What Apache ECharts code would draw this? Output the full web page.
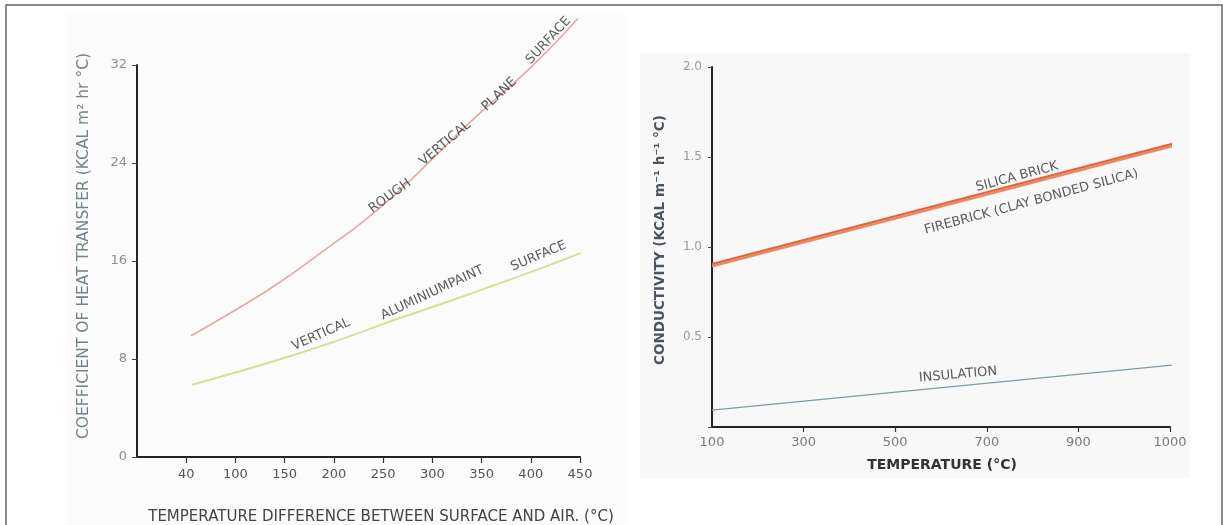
<!DOCTYPE html>
<html>
<head>
<meta charset="utf-8">
<script src="https://cdn.jsdelivr.net/npm/echarts@6/dist/echarts.min.js"></script>
<style>
html,body{margin:0;padding:0;background:#fff;}
#c{width:1223px;height:525px;}
</style>
</head>
<body>
<div id="c"></div>
<script>
// ---------- data ----------
// Left chart: heat transfer coefficient vs temperature difference
const leftTickValues = [50, 100, 150, 200, 250, 300, 350, 400, 450];
const leftTickLabels = ['40', '100', '150', '200', '250', '300', '350', '400', '450'];
const leftYTicks = [0, 8, 16, 24, 32];
const roughX = [55, 100, 142, 194, 231, 270, 302, 342, 400, 448];
const roughY = [9.9, 12.0, 14.1, 17.1, 19.3, 22.0, 24.5, 27.6, 31.8, 35.8];
const aluX = [56, 100, 142, 200, 262, 320, 362, 410, 462];
const aluY = [5.9, 6.9, 7.9, 9.4, 11.2, 12.8, 14.0, 15.4, 17.0];

// Right chart: conductivity vs temperature
const rightTickValues = [100, 300, 500, 700, 900, 1100];
const rightTickLabels = ['100', '300', '500', '700', '900', '1000'];
const rightYTicks = [0.5, 1.0, 1.5, 2.0];
const silicaX = [100, 1128];
const silicaY = [0.905, 1.588];
const fireX = [100, 1128];
const fireY = [0.893, 1.576];
const insulX = [100, 1104];
const insulY = [0.094, 0.344];

const zip = (xs, ys) => xs.map((x, i) => [x, ys[i]]);
const FONT = '"DejaVu Sans", "Liberation Sans", Arial, sans-serif';

function labelSeries(xIdx, yIdx, items, color, size) {
  return {
    type: 'scatter', xAxisIndex: xIdx, yAxisIndex: yIdx,
    symbolSize: 1, silent: true, clip: false, z: 5,
    itemStyle: { color: 'transparent' },
    data: items.map(it => ({
      value: [it[1], it[2]],
      label: { show: true, position: 'inside', formatter: it[0], rotate: it[3],
               color: color, fontSize: size, fontFamily: FONT }
    }))
  };
}

const chart = echarts.init(document.getElementById('c'), null, { renderer: 'canvas' });

const axisLineStyle = { color: '#222', width: 2 };

const option = {
  backgroundColor: '#ffffff',
  animation: false,
  graphic: [
    { type: 'rect', z: -10, shape: { x: 67, y: 14, width: 558, height: 520 }, style: { fill: '#fcfbfb' } },
    { type: 'rect', z: -10, shape: { x: 640, y: 53, width: 550, height: 425 }, style: { fill: '#f8f8f8' } },
    { type: 'rect', z: 100, shape: { x: 6, y: 5, width: 1216, height: 530 }, style: { fill: 'none', stroke: '#666', lineWidth: 1.5 } },
    { type: 'text', x: 84, y: 246, rotation: Math.PI / 2, z: 10,
      style: { text: 'COEFFICIENT OF HEAT TRANSFER (KCAL m² hr °C)', fill: '#72838a', font: '15.5px ' + FONT, align: 'center', verticalAlign: 'middle' } },
    { type: 'text', x: 381, y: 517, z: 10,
      style: { text: 'TEMPERATURE DIFFERENCE BETWEEN SURFACE AND AIR. (°C)', fill: '#444', font: '15px ' + FONT, align: 'center', verticalAlign: 'middle' } },
    { type: 'text', x: 660, y: 240, rotation: Math.PI / 2, z: 10,
      style: { text: 'CONDUCTIVITY (KCAL m⁻¹ h⁻¹ °C)', fill: '#4a5560', font: 'bold 13.5px ' + FONT, align: 'center', verticalAlign: 'middle' } },
    { type: 'text', x: 942, y: 465, z: 10,
      style: { text: 'TEMPERATURE (°C)', fill: '#333', font: 'bold 14px ' + FONT, align: 'center', verticalAlign: 'middle' } }
  ],
  grid: [
    { left: 137, top: 65, width: 443, height: 392 },
    { left: 712, top: 67, width: 458, height: 360 }
  ],
  xAxis: [
    {
      gridIndex: 0, type: 'value', min: 0, max: 450,
      axisLine: { lineStyle: axisLineStyle },
      axisTick: { show: true, inside: false, length: 6, customValues: leftTickValues, lineStyle: { color: '#333', width: 1.2 } },
      axisLabel: { customValues: leftTickValues, margin: 11, color: '#555', fontSize: 13, fontFamily: FONT,
        formatter: v => leftTickLabels[leftTickValues.indexOf(v)] || '' },
      splitLine: { show: false }
    },
    {
      gridIndex: 1, type: 'value', min: 100, max: 1100,
      axisLine: { lineStyle: axisLineStyle },
      axisTick: { show: true, length: 5, customValues: rightTickValues.slice(1), lineStyle: { color: '#333', width: 1.2 } },
      axisLabel: { customValues: rightTickValues, margin: 9, color: '#7a7a7a', fontSize: 13, fontFamily: FONT,
        formatter: v => rightTickLabels[rightTickValues.indexOf(v)] || '' },
      splitLine: { show: false }
    }
  ],
  yAxis: [
    {
      gridIndex: 0, type: 'value', min: 0, max: 32, interval: 8,
      axisLine: { show: true, lineStyle: axisLineStyle },
      axisTick: { show: true, length: 5, lineStyle: { color: '#444', width: 1 } },
      axisLabel: { margin: 10, color: '#8d8d8d', fontSize: 13, fontFamily: FONT,
        formatter: v => leftYTicks.indexOf(v) >= 0 ? String(v) : '' },
      splitLine: { show: false }
    },
    {
      gridIndex: 1, type: 'value', min: 0, max: 2, interval: 0.5,
      axisLine: { show: true, lineStyle: axisLineStyle },
      axisTick: { show: true, length: 4, lineStyle: { color: '#444', width: 1 } },
      axisLabel: { margin: 10, color: '#9a9a9a', fontSize: 12, fontFamily: FONT,
        formatter: v => rightYTicks.indexOf(v) >= 0 ? v.toFixed(1) : '' },
      splitLine: { show: false }
    }
  ],
  series: [
    { name: 'Rough vertical plane surface', type: 'line', xAxisIndex: 0, yAxisIndex: 0, smooth: true,
      symbol: 'none', clip: false, lineStyle: { color: '#e3a9a4', width: 1.6 }, data: zip(roughX, roughY) },
    { name: 'Vertical aluminium paint surface', type: 'line', xAxisIndex: 0, yAxisIndex: 0, smooth: true,
      symbol: 'none', clip: false, lineStyle: { color: '#dcdc98', width: 2 }, data: zip(aluX, aluY) },
    { name: 'Silica brick', type: 'line', xAxisIndex: 1, yAxisIndex: 1,
      symbol: 'none', clip: false, lineStyle: { color: '#e2653f', width: 2.5 }, data: zip(silicaX, silicaY) },
    { name: 'Firebrick (clay bonded silica)', type: 'line', xAxisIndex: 1, yAxisIndex: 1,
      symbol: 'none', clip: false, lineStyle: { color: '#e98a66', width: 2.5 }, data: zip(fireX, fireY) },
    { name: 'Insulation', type: 'line', xAxisIndex: 1, yAxisIndex: 1,
      symbol: 'none', clip: false, lineStyle: { color: '#7f9aa6', width: 1.2 }, data: zip(insulX, insulY) },
    labelSeries(0, 0, [
      ['ROUGH', 257, 21.3, 36],
      ['VERTICAL', 313, 25.6, 40],
      ['PLANE', 368, 29.6, 43],
      ['SURFACE', 418, 34.0, 47],
      ['VERTICAL', 187, 10.0, 24],
      ['ALUMINIUMPAINT', 300, 13.4, 25],
      ['SURFACE', 408, 16.4, 23]
    ], '#333', 13),
    labelSeries(1, 1, [
      ['SILICA BRICK', 766, 1.39, 15],
      ['FIREBRICK (CLAY BONDED SILICA)', 797, 1.25, 15],
      ['INSULATION', 637, 0.29, 5]
    ], '#333', 13)
  ]
};

chart.setOption(option);
</script>
</body>
</html>
